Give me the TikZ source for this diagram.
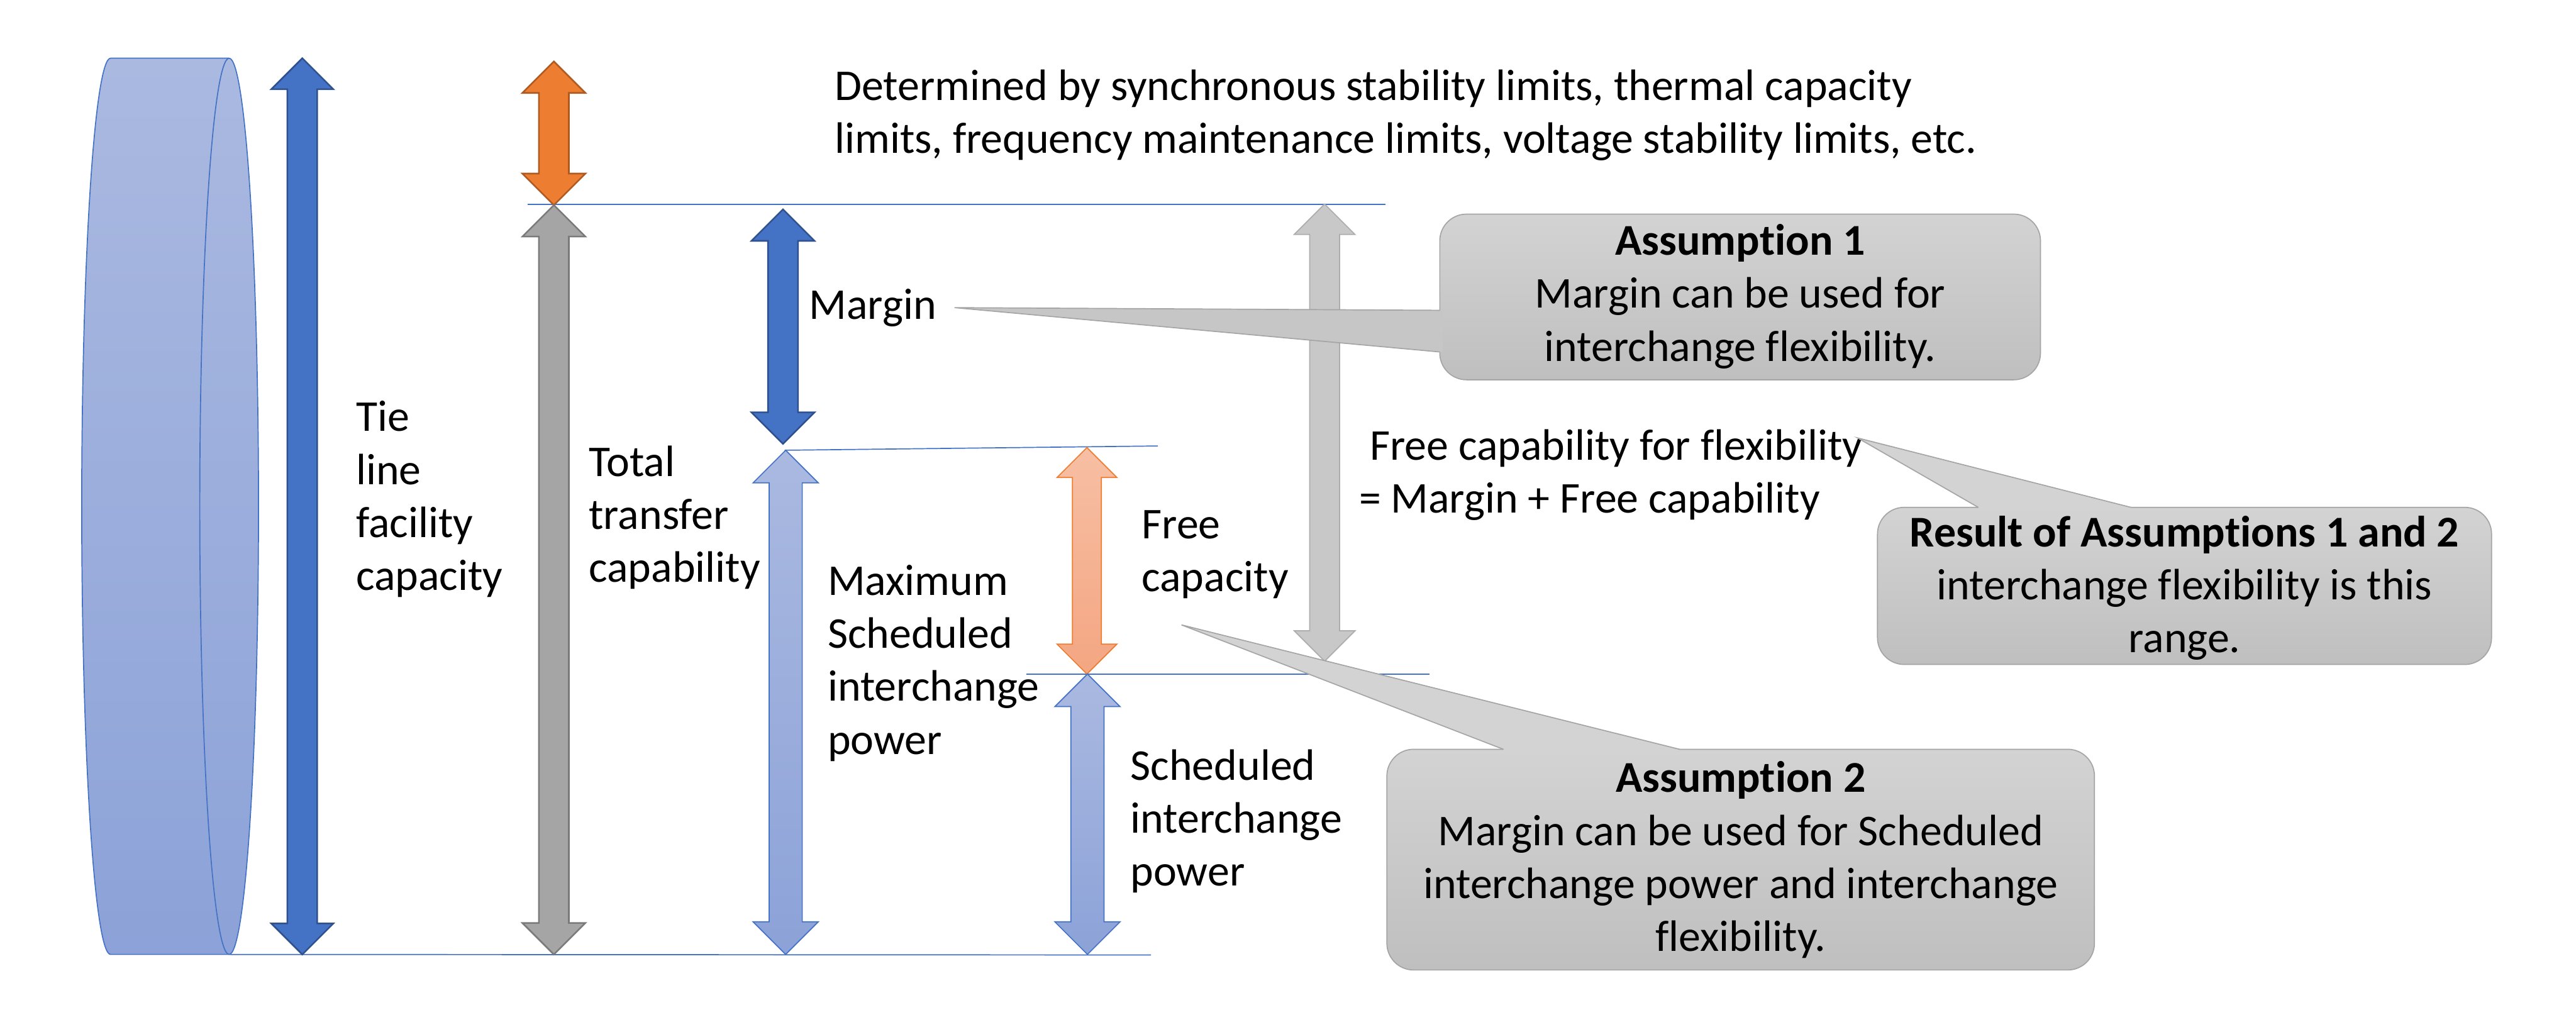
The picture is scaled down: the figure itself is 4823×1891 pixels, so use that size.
\documentclass[tikz,border=0pt]{standalone}
\usepackage{fontspec}
\setmainfont{Carlito}[Ligatures=NoCommon]
\usetikzlibrary{positioning}
\definecolor{tieblue}{HTML}{4472C4}
\definecolor{tieedge}{HTML}{2F528F}
\definecolor{ttcorange}{HTML}{ED7D31}
\definecolor{ttcoredge}{HTML}{AE5A21}
\definecolor{ttcgray}{HTML}{A5A5A5}
\definecolor{ttcgredge}{HTML}{7A7A7A}
\definecolor{paletop}{HTML}{AAB9E0}
\definecolor{palebot}{HTML}{8CA2D8}
\definecolor{peachtop}{HTML}{F7BFA4}
\definecolor{peachbot}{HTML}{F4A682}
\definecolor{flexgray}{HTML}{C8C8C8}
\definecolor{flexedge}{HTML}{ADADAD}
\definecolor{calltop}{HTML}{D3D3D3}
\definecolor{callbot}{HTML}{BFBFBF}
\definecolor{calledge}{HTML}{A5A5A5}

% vertical double arrow: style, x, top tip, bottom tip, head half width, shaft half width
\newcommand{\vdarrow}[6]{%
  \path[#1] (#2,#3) -- ({#2+#5},{#3+#5}) -- ({#2+#6},{#3+#5}) -- ({#2+#6},{#4-#5})
    -- ({#2+#5},{#4-#5}) -- (#2,#4) -- ({#2-#5},{#4-#5}) -- ({#2-#6},{#4-#5})
    -- ({#2-#6},{#3+#5}) -- ({#2-#5},{#3+#5}) -- cycle;}

\begin{document}
\begin{tikzpicture}[x=0.01cm, y=-0.01cm,
  every node/.style={inner sep=0pt, font=\fontsize{23.4}{28.2}\selectfont},
  lbl/.style={anchor=base west, align=left},
  calltxt/.style={anchor=base, align=center},
  level/.style={draw=tieblue, line width=0.02cm},
  darkarrow/.style={fill=tieblue, draw=tieedge, line width=0.03cm},
  hotarrow/.style={fill=ttcorange, draw=ttcoredge, line width=0.03cm},
  ttcarrow/.style={fill=ttcgray, draw=ttcgredge, line width=0.03cm},
  palearrow/.style={top color=paletop, bottom color=palebot, draw=tieblue, line width=0.02cm},
  peacharrow/.style={top color=peachtop, bottom color=peachbot, draw=ttcorange, line width=0.02cm},
  flexarrow/.style={fill=flexgray, draw=flexedge, line width=0.02cm},
  callbox/.style={draw=calledge, line width=0.02cm, rounded corners=0.5cm,
                  top color=calltop, bottom color=callbot},
  callline/.style={draw=calledge, line width=0.02cm}]
  \useasboundingbox (0,0) rectangle (4823,1891);
  % tie line drawn as a cylinder
  \path[top color=paletop, bottom color=palebot, draw=tieblue, line width=0.02cm]
    (207,109) -- (429,109)
    .. controls (459.4,109) and (484,484.6) .. (484,948)
    .. controls (484,1411.4) and (459.4,1787) .. (429,1787)
    -- (207,1787)
    .. controls (177.2,1787) and (153,1411.4) .. (153,948)
    .. controls (153,484.6) and (177.2,109) .. cycle;
  \draw[tieblue, line width=0.02cm] (429,109)
    .. controls (398.6,109) and (374,484.6) .. (374,948)
    .. controls (374,1411.4) and (398.6,1787) .. (429,1787);
  % level lines
  \draw[level] (988,383) -- (2594,383);
  \draw[level] (1469,843) -- (2168,835);
  \draw[level] (1922,1262) -- (2676,1262);
  \draw[level] (429,1787) -- (2155,1788);
  % arrows
  \vdarrow{darkarrow}{566}{109}{1787}{58}{28}
  \vdarrow{hotarrow}{1037}{115}{384}{59}{28}
  \vdarrow{ttcarrow}{1037}{384}{1787}{59}{28}
  \vdarrow{darkarrow}{1466}{392}{831}{59}{28}
  \vdarrow{palearrow}{1471}{843}{1787}{61}{31}
  \vdarrow{peacharrow}{2035}{838}{1262}{56}{27}
  \vdarrow{palearrow}{2036}{1262}{1787}{61}{31}
  \vdarrow{flexarrow}{2480}{382}{1238}{57}{28}
  % labels (base = last line)
  \node[lbl] (limits) at (1562,287)
    {Determined by synchronous stability limits, thermal capacity\\limits, frequency maintenance limits, voltage stability limits, etc.};
  \node[lbl] (tielbl) at (666,1105) {Tie\\line\\facility\\capacity};
  \node[lbl] (ttclbl) at (1102,1090) {Total\\transfer\\capability};
  \node[lbl] (marginlbl) at (1514,598) {Margin};
  \node[lbl] (maxlbl) at (1549,1412) {Maximum\\Scheduled\\interchange\\power};
  \node[lbl] (freelbl) at (2137,1108) {Free\\capacity};
  \node[lbl] (schedlbl) at (2116,1659) {Scheduled\\interchange\\power};
  \node[lbl] (flexlbl) at (2544,960) {\hspace*{0.2cm}Free capability for flexibility\\= Margin + Free capability};
  % callouts
  \coordinate (tipone) at (1787,576);
  \coordinate (tipres) at (3478,820);
  \coordinate (tiptwo) at (2212,1170);
  \node[callbox, minimum width=11.24cm, minimum height=3.10cm] (asone) at (3258,556) {};
  \fill[calltop!35!callbot] (tipone) -- (2696,581) -- (2701,581) -- (2701,659) -- (2696,659) -- cycle;
  \draw[callline] (2696,581) -- (tipone) -- (2696,659);
  \node[calltxt] (asonetxt) at (3258,676)
    {\textbf{Assumption 1}\\Margin can be used for\\interchange flexibility.};
  \node[callbox, minimum width=11.49cm, minimum height=2.94cm] (result) at (4090,1097) {};
  \fill[calltop] (tipres) -- (3704,950) -- (3704,955) -- (3990,955) -- (3990,950) -- cycle;
  \draw[callline] (3704,950) -- (tipres) -- (3990,950);
  \node[calltxt] (resulttxt) at (4090,1222)
    {\textbf{Result of Assumptions 1 and 2}\\interchange flexibility is this\\range.};
  \node[callbox, minimum width=13.24cm, minimum height=4.13cm] (astwo) at (3259,1609.5) {};
  \fill[calltop] (tiptwo) -- (2815,1403) -- (2815,1408) -- (3145,1408) -- (3145,1403) -- cycle;
  \draw[callline] (2815,1403) -- (tiptwo) -- (3145,1403);
  \node[calltxt] (astwotxt) at (3259,1781)
    {\textbf{Assumption 2}\\Margin can be used for Scheduled\\interchange power and interchange\\flexibility.};
\end{tikzpicture}
\end{document}
